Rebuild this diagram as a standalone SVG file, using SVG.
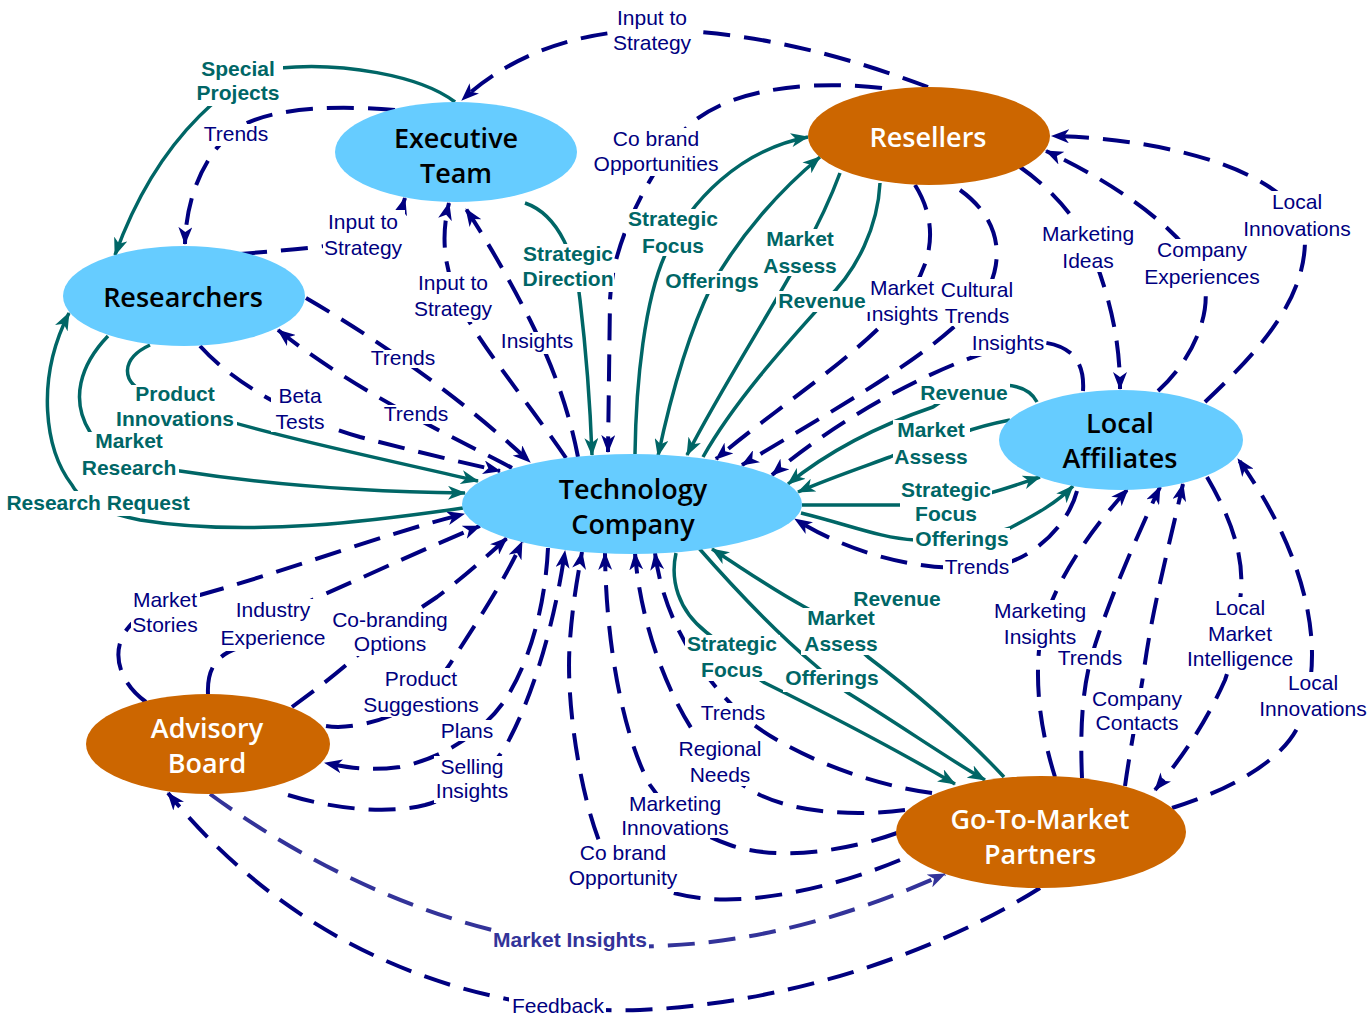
<svg xmlns="http://www.w3.org/2000/svg" width="1371" height="1022" viewBox="0 0 1371 1022">
<defs>
<style>
.d{fill:none;stroke:#000080;stroke-width:4;stroke-dasharray:27 14}
.p{fill:none;stroke:#333399;stroke-width:4;stroke-dasharray:27 14}
.t{fill:none;stroke:#006666;stroke-width:3.5}
.bg{fill:#ffffff}
.ln{font-family:"Liberation Sans",Arial,sans-serif;font-size:21px;fill:#000080;text-anchor:middle}
.lt{font-family:"Liberation Sans",Arial,sans-serif;font-size:21px;font-weight:bold;fill:#006666;text-anchor:middle}
.lp{font-family:"Liberation Sans",Arial,sans-serif;font-size:21px;font-weight:bold;fill:#333399;text-anchor:middle}
.nt{font-family:"Open Sans","Liberation Sans",sans-serif;font-weight:600;font-size:27px;text-anchor:middle}
.blue{fill:#66CCFF}
.org{fill:#CC6600}
</style>
<marker id="an" viewBox="0 0 18 14" refX="17" refY="7" markerWidth="18" markerHeight="14" markerUnits="userSpaceOnUse" orient="auto-start-reverse"><path d="M0 0 L18 7 L0 14 L5 7 Z" fill="#000080"/></marker>
<marker id="at" viewBox="0 0 18 14" refX="17" refY="7" markerWidth="18" markerHeight="14" markerUnits="userSpaceOnUse" orient="auto-start-reverse"><path d="M0 0 L18 7 L0 14 L5 7 Z" fill="#006666"/></marker>
<marker id="ap" viewBox="0 0 18 14" refX="17" refY="7" markerWidth="18" markerHeight="14" markerUnits="userSpaceOnUse" orient="auto-start-reverse"><path d="M0 0 L18 7 L0 14 L5 7 Z" fill="#333399"/></marker>
</defs>
<rect x="0" y="0" width="1371" height="1022" fill="#ffffff"/>
<g id="connectors">
<path class="d" marker-end="url(#an)" d="M 928 87 C 850 58, 760 32, 660 30 C 580 29, 510 55, 462 100"/>
<path class="d" marker-end="url(#an)" d="M 882 88 C 790 78, 712 95, 680 135 C 650 175, 612 240, 610 300 L 608 452"/>
<path class="d" marker-end="url(#an)" d="M 395 110 C 320 104, 260 110, 232 132 C 202 158, 186 200, 185 244"/>
<path class="d" marker-end="url(#an)" d="M 240 254 C 290 250, 340 246, 368 238 C 390 230, 400 215, 405 198"/>
<path class="d" marker-end="url(#an)" d="M 566 458 C 530 405, 480 345, 460 305 C 445 270, 440 240, 449 203"/>
<path class="d" marker-end="url(#an)" d="M 578 457 C 568 405, 550 360, 530 320 C 512 285, 490 245, 466 209"/>
<path class="d" marker-end="url(#an)" d="M 306 298 Q 430 370 530 462"/>
<path class="d" marker-end="url(#an)" d="M 512 468 C 460 440, 360 395, 278 330"/>
<path class="d" marker-end="url(#an)" d="M 200 346 C 235 385, 300 420, 360 437 C 410 450, 460 462, 500 471"/>
<path class="d" marker-end="url(#an)" d="M 915 185 C 940 225, 932 265, 905 300 C 860 355, 780 405, 716 459"/>
<path class="d" marker-end="url(#an)" d="M 960 190 C 995 215, 1005 250, 990 285 C 960 340, 850 400, 742 465"/>
<path class="d" marker-end="url(#an)" d="M 1083 391 C 1085 360, 1070 345, 1040 342 C 990 340, 860 400, 772 475"/>
<path class="d" marker-end="url(#an)" d="M 1020 167 C 1060 195, 1085 230, 1095 260 C 1110 300, 1120 340, 1120 389"/>
<path class="d" marker-end="url(#an)" d="M 1158 391 C 1190 362, 1210 320, 1205 285 C 1200 245, 1130 190, 1046 151"/>
<path class="d" marker-end="url(#an)" d="M 1205 402 C 1260 350, 1305 300, 1305 240 C 1305 175, 1170 138, 1052 136"/>
<path class="d" marker-end="url(#an)" d="M 1077 491 C 1068 525, 1035 557, 1000 565 C 940 575, 860 560, 795 519"/>
<path class="d" marker-end="url(#an)" d="M 146 702 C 118 682, 110 650, 128 628 C 140 612, 170 600, 200 595 C 290 570, 380 535, 464 514"/>
<path class="d" marker-end="url(#an)" d="M 208 694 C 207 672, 214 656, 238 648 C 270 630, 290 610, 318 597 C 380 570, 430 546, 480 526"/>
<path class="d" marker-end="url(#an)" d="M 292 707 C 315 690, 335 675, 352 660 C 380 635, 410 615, 437 597 C 460 580, 485 558, 507 538"/>
<path class="d" marker-end="url(#an)" d="M 326 726 C 345 729, 370 724, 390 716 C 420 700, 440 680, 450 664 C 475 625, 505 580, 522 542"/>
<path class="d" marker-end="url(#an)" d="M 548 548 C 545 610, 528 665, 505 700 C 485 730, 445 758, 400 767 C 370 771, 350 768, 325 763"/>
<path class="d" marker-end="url(#an)" d="M 288 795 C 330 808, 385 815, 425 805 C 460 795, 495 770, 510 738 C 535 690, 555 620, 565 551"/>
<path class="d" marker-end="url(#an)" d="M 900 860 C 840 885, 760 905, 700 898 C 650 892, 610 870, 598 838 C 580 790, 565 700, 570 640 C 573 600, 578 575, 582 552"/>
<path class="d" marker-end="url(#an)" d="M 897 833 C 850 850, 780 862, 730 845 C 700 835, 670 815, 650 785 C 625 740, 606 650, 605 553"/>
<path class="d" marker-end="url(#an)" d="M 905 810 C 860 816, 800 814, 760 795 C 730 780, 710 760, 697 737 C 665 690, 640 620, 635 553"/>
<path class="d" marker-end="url(#an)" d="M 932 793 C 870 785, 790 755, 745 718 C 710 685, 665 630, 655 553"/>
<path class="d" marker-end="url(#an)" d="M 1055 777 C 1042 735, 1034 690, 1040 640 C 1048 590, 1090 530, 1128 489"/>
<path class="d" marker-end="url(#an)" d="M 1082 778 C 1080 730, 1082 690, 1092 655 C 1105 610, 1135 540, 1160 487"/>
<path class="d" marker-end="url(#an)" d="M 1125 786 C 1130 750, 1138 710, 1144 670 C 1152 610, 1168 550, 1183 484"/>
<path class="d" marker-end="url(#an)" d="M 1207 477 C 1232 520, 1246 560, 1240 600 C 1236 635, 1232 660, 1225 680 C 1205 725, 1180 760, 1155 790"/>
<path class="d" marker-end="url(#an)" d="M 1172 808 C 1230 790, 1285 760, 1300 722 C 1308 700, 1312 680, 1312 655 C 1312 590, 1282 520, 1238 459"/>
<path class="d" marker-end="url(#an)" d="M 1040 888 C 950 945, 800 1003, 640 1010 C 480 1015, 300 955, 168 793"/>
<path class="p" marker-end="url(#ap)" d="M 210 794 C 300 860, 420 920, 540 940 C 700 962, 830 925, 945 874"/>
<path class="t" marker-end="url(#at)" d="M 455 102 C 420 75, 340 62, 280 68 C 240 72, 160 130, 115 255"/>
<path class="t" marker-end="url(#at)" d="M 525 203 C 560 215, 576 260, 580 300 C 586 350, 590 400, 592 455"/>
<path class="t" marker-end="url(#at)" d="M 150 345 C 122 358, 118 382, 150 395 C 230 428, 380 458, 478 481"/>
<path class="t" marker-end="url(#at)" d="M 108 336 C 80 365, 70 400, 90 432 C 110 460, 150 468, 180 471 C 270 485, 370 492, 465 493"/>
<path class="t" marker-end="url(#at)" d="M 463 508 C 380 520, 250 538, 140 520 C 100 512, 80 500, 72 485 C 45 450, 35 380, 69 313"/>
<path class="t" marker-end="url(#at)" d="M 635 454 C 636 380, 645 300, 665 255 C 690 200, 740 150, 808 137"/>
<path class="t" marker-start="url(#at)" marker-end="url(#at)" d="M 658 456 C 672 390, 690 330, 712 285 C 740 235, 780 190, 820 157"/>
<path class="t" marker-end="url(#at)" d="M 840 173 C 830 200, 818 225, 803 252 C 775 305, 720 390, 687 455"/>
<path class="t" d="M 880 183 C 878 225, 858 270, 826 300 C 790 340, 735 400, 703 457"/>
<path class="t" marker-end="url(#at)" d="M 1037 402 C 1032 392, 1022 386, 1005 385 C 970 384, 950 395, 933 407 C 880 425, 830 450, 788 484"/>
<path class="t" marker-end="url(#at)" d="M 1010 420 C 990 424, 975 428, 962 433 C 930 442, 905 450, 890 457 C 860 468, 825 480, 798 492"/>
<path class="t" marker-end="url(#at)" d="M 802 505 L 900 505 C 930 505, 960 500, 990 493 C 1005 489, 1022 483, 1040 477"/>
<path class="t" marker-end="url(#at)" d="M 801 513 C 850 525, 880 538, 915 540 C 950 542, 985 537, 1010 528 C 1035 515, 1058 502, 1073 486"/>
<path class="t" marker-end="url(#at)" d="M 1004 777 C 960 730, 905 685, 868 657 C 850 640, 830 620, 803 606 C 770 588, 745 570, 712 549"/>
<path class="t" marker-end="url(#at)" d="M 697 546 C 740 595, 785 640, 815 665 C 830 678, 840 688, 848 693 C 900 725, 950 760, 985 780"/>
<path class="t" marker-end="url(#at)" d="M 676 553 C 670 580, 678 610, 706 632 C 730 650, 750 675, 765 683 C 840 720, 900 752, 955 784"/>
</g>
<g id="labels">
<rect class="bg" x="612" y="6" width="82" height="50"/><text class="ln" x="652" y="25">Input to</text><text class="ln" x="652" y="50">Strategy</text>
<rect class="bg" x="591" y="128" width="131" height="48"/><text class="ln" x="656" y="146">Co brand</text><text class="ln" x="656" y="171">Opportunities</text>
<rect class="bg" x="201" y="124" width="69" height="22"/><text class="ln" x="236" y="141">Trends</text>
<rect class="bg" x="323" y="210" width="82" height="51"/><text class="ln" x="363" y="229">Input to</text><text class="ln" x="363" y="255">Strategy</text>
<rect class="bg" x="413" y="272" width="81" height="50"/><text class="ln" x="453" y="290">Input to</text><text class="ln" x="453" y="316">Strategy</text>
<rect class="bg" x="499" y="332" width="76" height="22"/><text class="ln" x="537" y="348">Insights</text>
<rect class="bg" x="368" y="350" width="69" height="18"/><text class="ln" x="403" y="365">Trends</text>
<rect class="bg" x="271" y="386" width="56" height="46"/><text class="ln" x="300" y="403">Beta</text><text class="ln" x="300" y="429">Tests</text>
<rect class="bg" x="381" y="405" width="69" height="19"/><text class="ln" x="416" y="421">Trends</text>
<rect class="bg" x="864" y="277" width="76" height="50"/><text class="ln" x="902" y="295">Market</text><text class="ln" x="902" y="321">Insights</text>
<rect class="bg" x="938" y="279" width="77" height="47"/><text class="ln" x="977" y="297">Cultural</text><text class="ln" x="977" y="323">Trends</text>
<rect class="bg" x="971" y="333" width="74" height="23"/><text class="ln" x="1008" y="350">Insights</text>
<rect class="bg" x="1041" y="223" width="96" height="49"/><text class="ln" x="1088" y="241">Marketing</text><text class="ln" x="1088" y="268">Ideas</text>
<rect class="bg" x="1141" y="239" width="123" height="51"/><text class="ln" x="1202" y="257">Company</text><text class="ln" x="1202" y="284">Experiences</text>
<rect class="bg" x="1243" y="191" width="109" height="49"/><text class="ln" x="1297" y="209">Local</text><text class="ln" x="1297" y="236">Innovations</text>
<rect class="bg" x="943" y="556" width="69" height="22"/><text class="ln" x="977" y="574">Trends</text>
<rect class="bg" x="992" y="600" width="98" height="50"/><text class="ln" x="1040" y="618">Marketing</text><text class="ln" x="1040" y="644">Insights</text>
<rect class="bg" x="1056" y="648" width="70" height="21"/><text class="ln" x="1090" y="665">Trends</text>
<rect class="bg" x="1185" y="597" width="110" height="74"/><text class="ln" x="1240" y="615">Local</text><text class="ln" x="1240" y="641">Market</text><text class="ln" x="1240" y="666">Intelligence</text>
<rect class="bg" x="1091" y="688" width="94" height="46"/><text class="ln" x="1137" y="706">Company</text><text class="ln" x="1137" y="730">Contacts</text>
<rect class="bg" x="1258" y="672" width="111" height="48"/><text class="ln" x="1313" y="690">Local</text><text class="ln" x="1313" y="716">Innovations</text>
<rect class="bg" x="698" y="703" width="70" height="20"/><text class="ln" x="733" y="720">Trends</text>
<rect class="bg" x="675" y="738" width="90" height="48"/><text class="ln" x="720" y="756">Regional</text><text class="ln" x="720" y="782">Needs</text>
<rect class="bg" x="620" y="793" width="111" height="45"/><text class="ln" x="675" y="811">Marketing</text><text class="ln" x="675" y="835">Innovations</text>
<rect class="bg" x="568" y="842" width="111" height="50"/><text class="ln" x="623" y="860">Co brand</text><text class="ln" x="623" y="885">Opportunity</text>
<rect class="bg" x="131" y="589" width="69" height="46"/><text class="ln" x="165" y="607">Market</text><text class="ln" x="165" y="632">Stories</text>
<rect class="bg" x="218" y="599" width="111" height="52"/><text class="ln" x="273" y="617">Industry</text><text class="ln" x="273" y="645">Experience</text>
<rect class="bg" x="331" y="609" width="119" height="47"/><text class="ln" x="390" y="627">Co-branding</text><text class="ln" x="390" y="651">Options</text>
<rect class="bg" x="361" y="668" width="121" height="49"/><text class="ln" x="421" y="686">Product</text><text class="ln" x="421" y="712">Suggestions</text>
<rect class="bg" x="438" y="720" width="57" height="21"/><text class="ln" x="467" y="738">Plans</text>
<rect class="bg" x="434" y="756" width="76" height="47"/><text class="ln" x="472" y="774">Selling</text><text class="ln" x="472" y="798">Insights</text>
<rect class="bg" x="509" y="995" width="97" height="21"/><text class="ln" x="558" y="1013">Feedback</text>
<rect class="bg" x="195" y="57" width="88" height="49"/><text class="lt" x="238" y="76">Special</text><text class="lt" x="238" y="100">Projects</text>
<rect class="bg" x="521" y="244" width="93" height="48"/><text class="lt" x="568" y="261">Strategic</text><text class="lt" x="568" y="286">Direction</text>
<rect class="bg" x="626" y="209" width="94" height="47"/><text class="lt" x="673" y="226">Strategic</text><text class="lt" x="673" y="253">Focus</text>
<rect class="bg" x="665" y="271" width="95" height="23"/><text class="lt" x="712" y="288">Offerings</text>
<rect class="bg" x="761" y="229" width="79" height="47"/><text class="lt" x="800" y="246">Market</text><text class="lt" x="800" y="273">Assess</text>
<rect class="bg" x="776" y="291" width="94" height="21"/><text class="lt" x="822" y="308">Revenue</text>
<rect class="bg" x="113" y="385" width="124" height="45"/><text class="lt" x="175" y="401">Product</text><text class="lt" x="175" y="426">Innovations</text>
<rect class="bg" x="79" y="432" width="100" height="47"/><text class="lt" x="129" y="448">Market</text><text class="lt" x="129" y="475">Research</text>
<rect class="bg" x="3" y="491" width="191" height="25"/><text class="lt" x="98" y="510">Research Request</text>
<rect class="bg" x="918" y="382" width="92" height="22"/><text class="lt" x="964" y="400">Revenue</text>
<rect class="bg" x="893" y="420" width="77" height="47"/><text class="lt" x="931" y="437">Market</text><text class="lt" x="931" y="464">Assess</text>
<rect class="bg" x="900" y="479" width="92" height="45"/><text class="lt" x="946" y="497">Strategic</text><text class="lt" x="946" y="521">Focus</text>
<rect class="bg" x="913" y="528" width="97" height="25"/><text class="lt" x="962" y="546">Offerings</text>
<rect class="bg" x="850" y="590" width="95" height="20"/><text class="lt" x="897" y="606">Revenue</text>
<rect class="bg" x="801" y="608" width="81" height="47"/><text class="lt" x="841" y="625">Market</text><text class="lt" x="841" y="651">Assess</text>
<rect class="bg" x="685" y="635" width="95" height="46"/><text class="lt" x="732" y="651">Strategic</text><text class="lt" x="732" y="677">Focus</text>
<rect class="bg" x="783" y="669" width="97" height="23"/><text class="lt" x="832" y="685">Offerings</text>
<rect class="bg" x="492" y="930" width="157" height="22"/><text class="lp" x="570" y="947">Market Insights</text>
</g>
<g id="node-executive">
<ellipse class="blue" cx="456" cy="152" rx="121" ry="50"/>
<text class="nt" x="456" y="148" fill="#000000">Executive</text><text class="nt" x="456" y="183" fill="#000000">Team</text>
</g>
<g id="node-resellers">
<ellipse class="org" cx="929" cy="136" rx="121" ry="49"/>
<text class="nt" x="928" y="147" fill="#ffffff">Resellers</text>
</g>
<g id="node-researchers">
<ellipse class="blue" cx="184" cy="296" rx="121" ry="50"/>
<text class="nt" x="183" y="307" fill="#000000">Researchers</text>
</g>
<g id="node-technology">
<ellipse class="blue" cx="632" cy="504" rx="170" ry="50"/>
<text class="nt" x="633" y="499" fill="#000000">Technology</text><text class="nt" x="633" y="534" fill="#000000">Company</text>
</g>
<g id="node-affiliates">
<ellipse class="blue" cx="1121" cy="440" rx="122" ry="50"/>
<text class="nt" x="1120" y="433" fill="#000000">Local</text><text class="nt" x="1120" y="468" fill="#000000">Affiliates</text>
</g>
<g id="node-advisory">
<ellipse class="org" cx="208" cy="744" rx="122" ry="50"/>
<text class="nt" x="207" y="738" fill="#ffffff">Advisory</text><text class="nt" x="207" y="773" fill="#ffffff">Board</text>
</g>
<g id="node-gtm">
<ellipse class="org" cx="1041" cy="832" rx="145" ry="56"/>
<text class="nt" x="1040" y="829" fill="#ffffff">Go-To-Market</text><text class="nt" x="1040" y="864" fill="#ffffff">Partners</text>
</g>
</svg>
